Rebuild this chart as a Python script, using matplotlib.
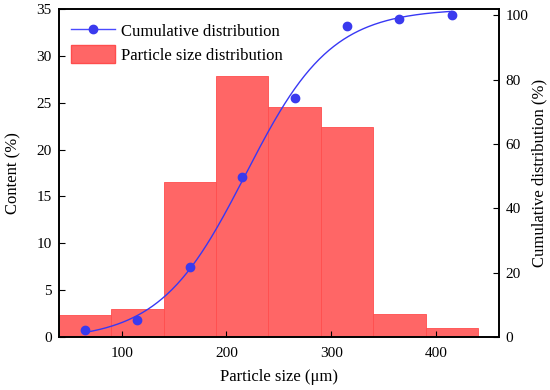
import numpy as np
import matplotlib
matplotlib.use('Agg')
import matplotlib.pyplot as plt
from matplotlib.lines import Line2D
from matplotlib.patches import Patch

plt.rcParams['font.family'] = ['Liberation Serif', 'DejaVu Serif']

# data
sizes = [65, 115, 165, 215, 265, 315, 365, 415]        # bin centres (um)
content = [2.3, 3.0, 16.5, 27.8, 24.5, 22.4, 2.5, 1.0]  # %
cumulative = [2.2, 5.2, 21.7, 49.6, 74.2, 96.7, 99.0, 100.0]  # %
bin_width = 50

# Boltzmann fit for the smooth cumulative curve
x = np.array(sizes, dtype=float)
y = np.array(cumulative)
best = None
for x0 in np.arange(190, 240, 0.25):
    for dx in np.arange(25, 60, 0.25):
        s = 1 / (1 + np.exp((x - x0) / dx))
        A = np.vstack([s, 1 - s]).T
        coef, res, _, _ = np.linalg.lstsq(A, y, rcond=None)
        err = np.sum((A @ coef - y) ** 2)
        if best is None or err < best[0]:
            best = (err, x0, dx, coef)
_, x0, dx, (A1, A2) = best
xf = np.linspace(sizes[0], sizes[-1], 300)
yf = A2 + (A1 - A2) / (1 + np.exp((xf - x0) / dx))

fig = plt.figure(figsize=(5.5, 3.9), dpi=100)
ax = fig.add_axes([0.107, 0.136, 0.8, 0.841])
ax.bar(sizes, content, width=bin_width, color='#ff6666', edgecolor='#ff4d4d', linewidth=0.6)
ax.set_xlim(40, 460)
ax.set_ylim(0, 35)
ax.set_xticks([100, 200, 300, 400])
ax.set_yticks(range(0, 36, 5))
ax.set_xlabel('Particle size (μm)', fontsize=12, labelpad=7)
ax.set_ylabel('Content (%)', fontsize=12, labelpad=11)
ax.tick_params(direction='in', length=4, labelsize=11)
ax.tick_params(axis='x', pad=7)
ax.tick_params(axis='y', pad=5)

ax2 = ax.twinx()
ax2.plot(xf, yf, color='#3838f4', lw=1.0)
ax2.plot(sizes, cumulative, 'o', color='#3a3aee', ms=6, lw=0)
ax2.set_ylim(0, 102)
ax2.set_yticks(range(0, 101, 20))
ax2.set_ylabel('Cumulative distribution (%)', fontsize=12, labelpad=2)
ax2.tick_params(direction='in', length=4, labelsize=11, pad=5)

for a in (ax, ax2):
    for sp in a.spines.values():
        sp.set_linewidth(1.2)

handles = [Line2D([], [], color='#4a4aff', marker='o', markerfacecolor='#3a3aee',
                  markeredgecolor='#3a3aee', ms=6, lw=1.0),
           Patch(facecolor='#ff6666', edgecolor='#ff4d4d')]
ax.legend(handles, ['Cumulative distribution', 'Particle size distribution'],
          loc='upper left', frameon=False, fontsize=12, handlelength=2.6,
          handleheight=1.3, handletextpad=0.4, borderaxespad=0.35, labelspacing=0.3)

fig.savefig('out.png', dpi=100)
